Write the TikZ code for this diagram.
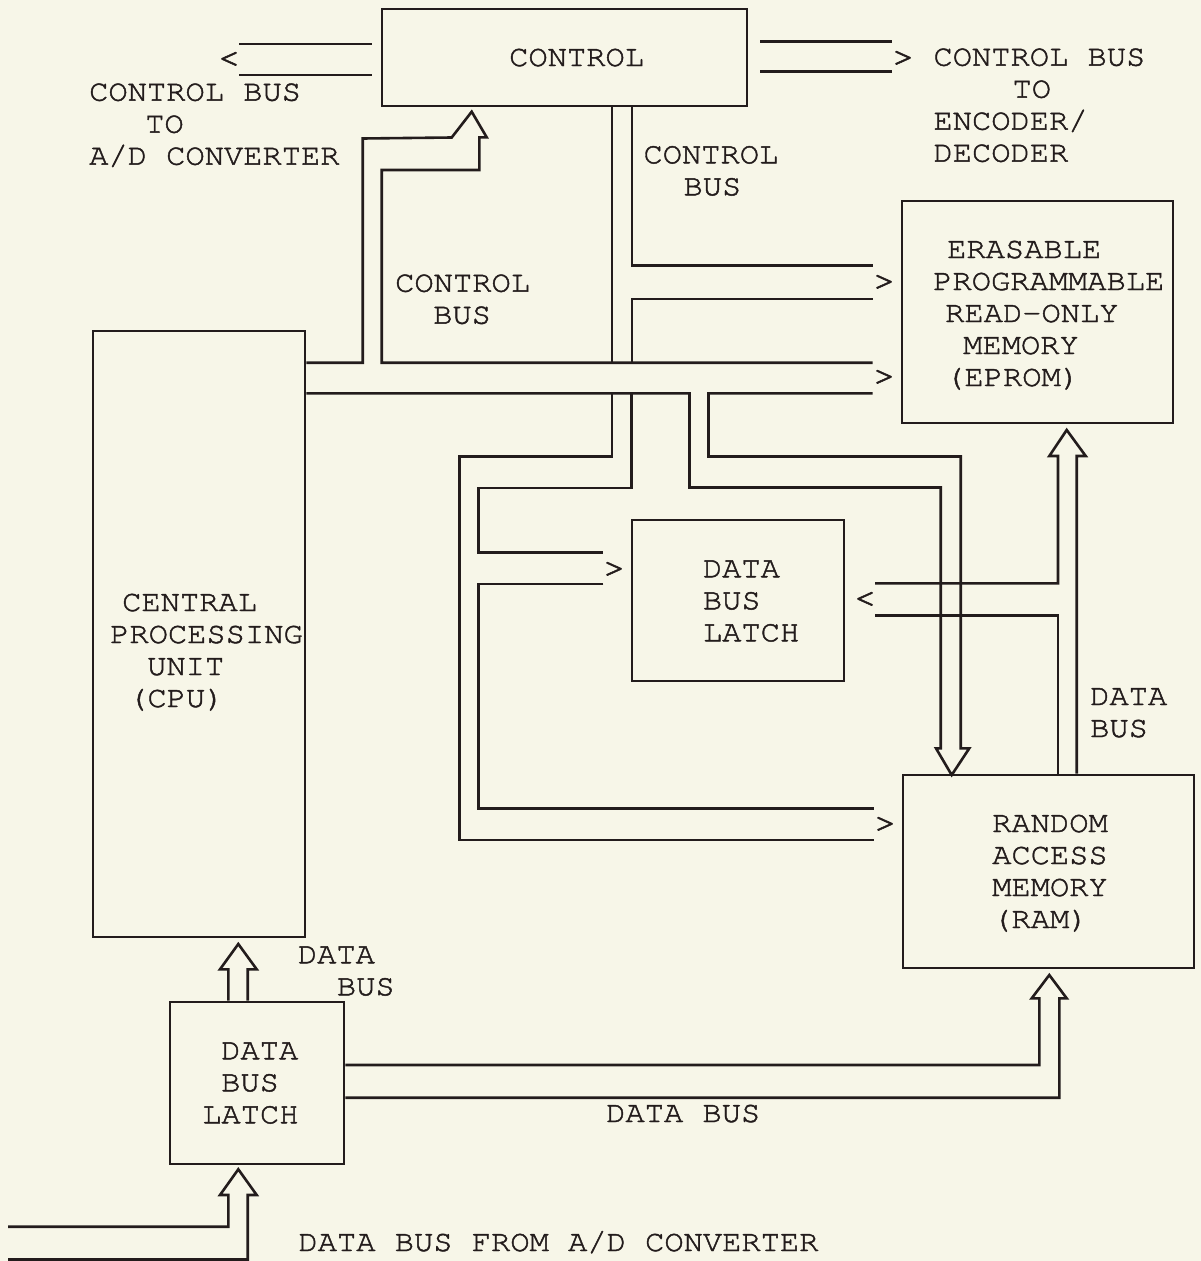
\documentclass[tikz,border=0pt]{standalone}
\usepackage{fontspec}
\setmainfont{TeX Gyre Cursor}[FakeStretch=1.07,FakeBold=1.5]
\definecolor{paper}{RGB}{247,246,232}
\definecolor{inkc}{RGB}{35,28,28}
\newcommand\labfont{\fontsize{30}{32}\selectfont}
\newcommand\tipfont{\fontsize{36}{36}\selectfont}
\tikzset{
  ink/.style={draw=inkc, line width=2.6pt, line join=miter},
  box/.style={draw=inkc, line width=2.6pt, inner sep=0pt, text=inkc, font=\labfont},
  txt/.style={anchor=base west, inner sep=0pt, text=inkc, font=\labfont, align=left},
  tip/.style={anchor=center, inner sep=0pt, text=inkc, font=\tipfont}
}
\begin{document}
\begin{tikzpicture}[x=1pt,y=-1pt]
\fill[paper] (0,0) rectangle (1201,1261);
\useasboundingbox (0,0) rectangle (1201,1261);

% boxes
\node[box, minimum width=365pt, minimum height=97pt] (ctrl) at (564.5,57.5) {};
\node[txt] (ctrlt) at (509,66) {CONTROL};
\node[box, minimum width=271pt, minimum height=222pt] (eprom) at (1037.5,312) {};
\node[box, minimum width=212pt, minimum height=606pt] (cpu) at (199,634) {};
\node[box, minimum width=212pt, minimum height=161pt] (latA) at (738,600.5) {};
\node[box, minimum width=291pt, minimum height=193pt] (ram) at (1048.5,871.5) {};
\node[box, minimum width=174pt, minimum height=162pt] (latB) at (257,1083) {};

% control bus to A/D converter
\draw[ink] ([xshift=-9pt]ctrl.west |- 0,44) -- (239,44);
\draw[ink] ([xshift=-9pt]ctrl.west |- 0,75) -- (239,75);
\node[tip] (ltip) at (229,60) {<};
% control bus to encoder/decoder
\draw[ink] ([xshift=12pt]ctrl.east |- 0,41.7) -- (892,41.7);
\draw[ink] ([xshift=12pt]ctrl.east |- 0,71.7) -- (892,71.7);
\node[tip] (rtip) at (903,59) {>};

% CPU -> CONTROL bus and main horizontal bus (upper edge)
\draw[ink] (cpu.east |- 0,362.7) -- (362.7,362.7) -- (362.7,138.5) -- (451.7,137.5)
  -- (471.7,111.7) -- (486.7,137.3) -- (479.3,137.3) -- (479.3,170) -- (381.7,170)
  -- (381.7,362.7) -- (872.7,362.7);

% control bus from CONTROL down to EPROM
\draw[ink] (ctrl.south -| 612,0) -- (612,362.7);
\draw[ink] (ctrl.south -| 632,0) -- (632,265.7) -- (872.7,265.7);
\draw[ink] (872.7,299) -- (632,299) -- (632,362.7);
\node[tip] (e1) at (884,283) {>};
\node[tip] (e2) at (884,378) {>};

% main horizontal bus lower edge and down arrow to RAM
\draw[ink] (cpu.east |- 0,393.3) -- (689.5,393.3) -- (689.5,487.5) -- (940.7,487.5)
  -- (940.7,748.3) -- (936,748.3) -- (951.7,775) -- (969.3,748.3) -- (960.7,748.3)
  -- (960.7,456.5) -- (708.5,456.5) -- (708.5,393.3) -- (872.7,393.3);

% branches to data bus latch and RAM
\draw[ink] (612,393.3) -- (612,456.5) -- (459.3,456.5) -- (459.3,840) -- (874.3,840);
\draw[ink] (631.7,393.3) -- (631.7,488) -- (478.3,488) -- (478.3,552.7) -- (603.3,552.7);
\draw[ink] (603.3,584) -- (478.3,584) -- (478.3,808.3) -- (874.3,808.3);
\node[tip] (a1) at (614,570) {>};
\node[tip] (a2) at (885,825) {>};

% data bus: latch <- , EPROM up arrow, RAM
\draw[ink] (875,583.3) -- (1058,583.3) -- (1058,456) -- (1049.3,456) -- (1066.7,430)
  -- (1085.7,456) -- (1076.7,456) -- (ram.north -| 1076.7,0);
\draw[ink] (875,615.7) -- (1058,615.7) -- (ram.north -| 1058,0);
\node[tip] (a3) at (865,600) {<};

% lower latch -> RAM
\draw[ink] (latB.east |- 0,1065) -- (1039.3,1065) -- (1039.3,998.3) -- (1031.7,998.3)
  -- (1049.3,975) -- (1066.7,998.3) -- (1059.3,998.3) -- (1059.3,1097.7) -- (latB.east |- 0,1097.7);

% lower latch -> CPU
\draw[ink] (latB.north -| 228.3,0) -- (228.3,969.3) -- (220,969.3) -- (238.3,944)
  -- (256.7,969.3) -- (247.7,969.3) -- (latB.north -| 247.7,0);

% data bus from A/D converter
\draw[ink] (8,1226.7) -- (228.3,1226.7) -- (228.3,1195) -- (220,1195) -- (238.3,1169.3)
  -- (256.7,1195) -- (247.7,1195) -- (247.7,1259.5) -- (8,1259.5);

% labels (anchor = baseline of the last line)
\node[txt] (t1) at (89,164.7) {CONTROL BUS\\\hspace*{56pt}TO\\A/D CONVERTER};
\node[txt] (t2) at (933.3,161.7) {CONTROL BUS\\\hspace*{79pt}TO\\ENCODER/\\DECODER};
\node[txt] (t3) at (643.3,195.3) {CONTROL\\\hspace*{40pt}BUS};
\node[txt] (t4) at (395,323.7) {CONTROL\\\hspace*{38pt}BUS};
\node[txt] (t5) at (933,386) {\hspace*{14pt}ERASABLE\\PROGRAMMABLE\\\hspace*{12pt}READ-ONLY\\\hspace*{30pt}MEMORY\\\hspace*{12pt}(EPROM)};
\node[txt] (t6) at (110,707) {\hspace*{12pt}CENTRAL\\PROCESSING\\\hspace*{37pt}UNIT\\\hspace*{18pt}(CPU)};
\node[txt] (t7) at (702.7,641.3) {DATA\\BUS\\LATCH};
\node[txt] (t8) at (992,928) {RANDOM\\ACCESS\\MEMORY\\(RAM)};
\node[txt] (t9) at (1090,737) {DATA\\BUS};
\node[txt] (t10) at (297.7,995.3) {DATA\\\hspace*{39pt}BUS};
\node[txt] (t11) at (202,1123.3) {\hspace*{19pt}DATA\\\hspace*{19pt}BUS\\LATCH};
\node[txt] (t12) at (606,1122) {DATA BUS};
\node[txt] (t13) at (298.3,1251) {DATA BUS FROM A/D CONVERTER};
\end{tikzpicture}
\end{document}
